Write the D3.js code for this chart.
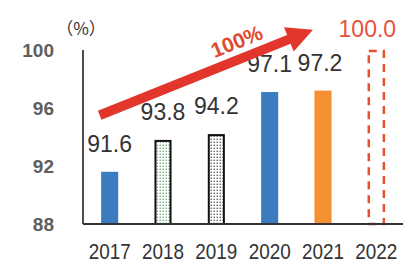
<!DOCTYPE html>
<html><head><meta charset="utf-8">
<script src="https://cdn.jsdelivr.net/npm/d3@7/dist/d3.min.js"></script>
<style>html,body{margin:0;padding:0;background:#fff;}svg{display:block;}</style>
</head><body>
<svg id="c" width="405" height="265"></svg>
<script>
const years = ["2017","2018","2019","2020","2021","2022"];
const values = [91.6, 93.8, 94.2, 97.1, 97.2, 100.0];
const valueLabels = ["91.6","93.8","94.2","97.1","97.2","100.0"];
const barStyles = ["blue","dotsGreen","dotsBlack","blue","orange","dashed"];
const yTicks = [88, 92, 96, 100];
const unitLabel = "（%）";
const arrowLabel = "100%";
const arrowFrom = 95.5, arrowTo = 101.4;

const svg = d3.select("#c");
const x = d3.scaleBand().domain(years).range([83, 403]).paddingInner(0.68).paddingOuter(0.34);
const y = d3.scaleLinear().domain([88, 100]).range([224, 50]);

const defs = svg.append("defs");
function dotPattern(id, color){
  const p = defs.append("pattern").attr("id", id).attr("patternUnits","userSpaceOnUse")
    .attr("width", 3).attr("height", 3);
  p.append("rect").attr("width",3).attr("height",3).attr("fill","#fff");
  p.append("circle").attr("cx",1.2).attr("cy",1.2).attr("r",0.75).attr("fill",color);
}
dotPattern("dg", "#5a9a6a");
dotPattern("db", "#444");

const fills = {blue:"#3b7bc0", orange:"#f4902f", dotsGreen:"url(#dg)", dotsBlack:"url(#db)", dashed:"none"};

// Y tick labels
svg.append("g").selectAll("text").data(yTicks).join("text")
  .attr("x", 54).attr("y", d => y(d)).attr("dy","0.36em")
  .attr("text-anchor","end").attr("font-family","Liberation Sans, Arial, sans-serif")
  .attr("font-weight","bold").attr("font-size", 19).attr("fill","#5e5e5e")
  .text(d => d);

svg.append("text").attr("x", 81).attr("y", 35).attr("text-anchor","middle")
  .attr("font-family","Noto Sans CJK JP, sans-serif").attr("font-size", 17).attr("fill","#333")
  .text(unitLabel);

// Bars
const bw = x.bandwidth();
const data = years.map((yr,i)=>({yr, v:values[i], s:barStyles[i], l:valueLabels[i]}));
const solid = s => s==="blue"||s==="orange";
svg.append("g").selectAll("rect").data(data).join("rect")
  .attr("x", d => solid(d.s) ? x(d.yr) : x(d.yr)+1)
  .attr("y", d => y(d.v) + (solid(d.s) ? 0 : 1))
  .attr("width", d => solid(d.s) ? bw : bw-2)
  .attr("height", d => y(88) - y(d.v) - (solid(d.s) ? 0 : 1))
  .attr("fill", d => fills[d.s])
  .attr("stroke", d => d.s.startsWith("dots") ? "#111" : (d.s==="dashed" ? "#e8502e" : "none"))
  .attr("stroke-width", d => d.s==="dashed" ? 2.5 : 2)
  .attr("stroke-dasharray", d => d.s==="dashed" ? "8,6" : null);

// Axes lines
svg.append("line").attr("x1",83).attr("x2",83).attr("y1",y(100)).attr("y2",y(88))
  .attr("stroke","#111").attr("stroke-width",1.5);
svg.append("line").attr("x1",83).attr("x2",403).attr("y1",y(88)).attr("y2",y(88))
  .attr("stroke","#333").attr("stroke-width",2);

// Year labels
svg.append("g").selectAll("text").data(years).join("text")
  .attr("x", d => x(d)+bw/2).attr("y", 259).attr("text-anchor","middle")
  .attr("font-family","Liberation Sans, Arial, sans-serif").attr("font-size", 22)
  .attr("fill","#333").attr("textLength", 42).attr("lengthAdjust","spacingAndGlyphs")
  .text(d => d);

// Value labels
svg.append("g").selectAll("text").data(data).join("text")
  .attr("x", d => x(d.yr)+bw/2 + (d.s==="dashed" ? -9 : (d.s==="orange" ? -3 : 0)))
  .attr("y", d => y(d.v) - (d.s==="dashed" ? 13 : 20))
  .attr("text-anchor","middle")
  .attr("font-family","Liberation Sans, Arial, sans-serif").attr("font-size", 23)
  .attr("fill", d => d.s==="dashed" ? "#e8503a" : "#333")
  .text(d => d.l);

// Arrow
const ax1 = x("2017")+bw/2 - 10, ay1 = y(arrowFrom);
const ax2 = x("2021")+bw/2 - 10, ay2 = y(arrowTo);
const ang = Math.atan2(ay2-ay1, ax2-ax1);
const headLen = 26, headW = 13;
const bx = ax2 - headLen*Math.cos(ang), by = ay2 - headLen*Math.sin(ang);
svg.append("line").attr("x1",ax1).attr("y1",ay1).attr("x2",bx+2*Math.cos(ang)).attr("y2",by+2*Math.sin(ang))
  .attr("stroke","#e2362c").attr("stroke-width",9.5);
svg.append("polygon")
  .attr("points", [[ax2,ay2],[bx + headW*Math.sin(ang), by - headW*Math.cos(ang)],[bx - headW*Math.sin(ang), by + headW*Math.cos(ang)]].map(p=>p.join(",")).join(" "))
  .attr("fill","#e2362c");
const tx = ax1 + (ax2-ax1)*0.655, ty = ay1 + (ay2-ay1)*0.655 - 11;
svg.append("text").attr("transform", `translate(${tx},${ty}) rotate(${ang*180/Math.PI})`)
  .attr("text-anchor","middle").attr("font-family","Liberation Sans, Arial, sans-serif")
  .attr("font-size", 21).attr("font-weight","bold").attr("fill","#e04a2e")
  .text(arrowLabel);
</script>
</body></html>
